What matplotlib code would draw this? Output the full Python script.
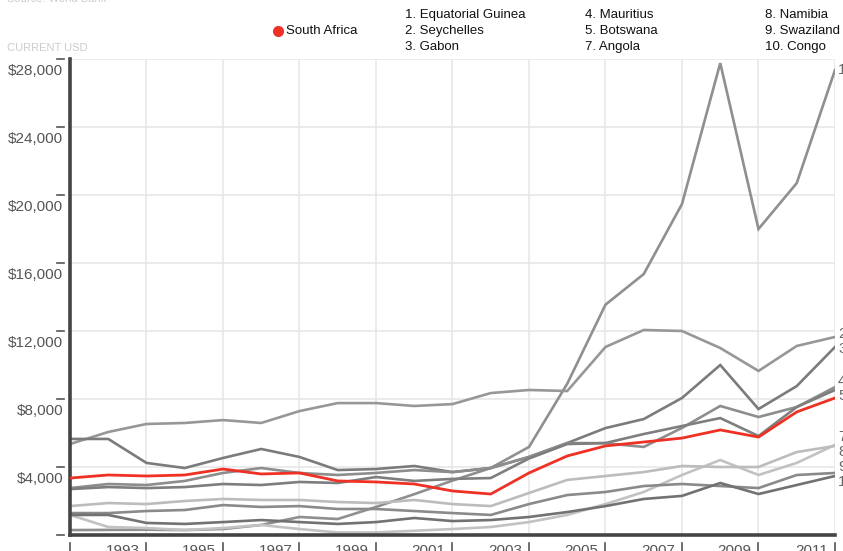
import matplotlib
matplotlib.use("Agg")
import matplotlib.pyplot as plt
from matplotlib.lines import Line2D
import numpy as np

plt.rcParams['font.family'] = ['Liberation Sans', 'DejaVu Sans']

years = [1991, 1992, 1993, 1994, 1995, 1996, 1997, 1998, 1999, 2000, 2001,
         2002, 2003, 2004, 2005, 2006, 2007, 2008, 2009, 2010, 2011]

south_africa = [3350, 3530, 3470, 3530, 3880, 3590, 3650, 3180, 3120, 3000, 2590,
                2410, 3650, 4650, 5240, 5470, 5700, 6180, 5760, 7240, 8060]
equatorial_guinea = [290, 300, 310, 290, 350, 590, 1060, 940, 1650, 2400, 3200,
                     3940, 5180, 8900, 13550, 15350, 19470, 27760, 18000, 20700, 27350]
seychelles = [5350, 6060, 6530, 6590, 6760, 6590, 7290, 7760, 7760, 7590, 7700,
              8350, 8530, 8470, 11060, 12060, 12000, 11000, 9650, 11120, 11650]
gabon = [5650, 5650, 4240, 3940, 4530, 5060, 4590, 3820, 3880, 4060, 3700,
         3940, 4590, 5410, 6290, 6820, 8060, 10000, 7410, 8760, 11060]
mauritius = [2760, 3000, 2940, 3180, 3650, 3940, 3650, 3530, 3650, 3820, 3700,
             3940, 4590, 5410, 5400, 5180, 6300, 7590, 6940, 7530, 8700]
botswana = [2700, 2820, 2760, 2820, 3000, 2940, 3120, 3060, 3410, 3180, 3300,
            3350, 4500, 5350, 5410, 5940, 6410, 6880, 5820, 7530, 8530]
angola = [1180, 470, 410, 290, 410, 590, 350, 150, 150, 250, 350,
          470, 760, 1180, 1820, 2530, 3530, 4410, 3530, 4240, 5300]
namibia = [1700, 1880, 1820, 2000, 2120, 2060, 2060, 1940, 1880, 2060, 1820,
           1700, 2470, 3240, 3470, 3700, 4060, 4000, 4000, 4880, 5240]
swaziland = [1290, 1290, 1410, 1470, 1760, 1650, 1700, 1530, 1530, 1410, 1290,
             1180, 1820, 2350, 2530, 2880, 3000, 2880, 2760, 3530, 3650]
congo = [1180, 1180, 710, 650, 760, 880, 760, 650, 760, 1000, 820,
         880, 1060, 1350, 1700, 2120, 2300, 3060, 2410, 2940, 3470]

ranked = [
    ("1", "Equatorial Guinea", equatorial_guinea, "#8f8f8f"),
    ("2", "Seychelles", seychelles, "#979797"),
    ("3", "Gabon", gabon, "#7b7b7b"),
    ("4", "Mauritius", mauritius, "#8d8d8d"),
    ("5", "Botswana", botswana, "#7e7e7e"),
    ("7", "Angola", angola, "#c2c2c2"),
    ("8", "Namibia", namibia, "#bcbcbc"),
    ("9", "Swaziland", swaziland, "#8a8a8a"),
    ("10", "Congo", congo, "#727272"),
]

y_ticks = [0, 4000, 8000, 12000, 16000, 20000, 24000, 28000]
x_ticks = [1991, 1993, 1995, 1997, 1999, 2001, 2003, 2005, 2007, 2009, 2011]

W, H = 843, 551
fig = plt.figure(figsize=(W / 100, H / 100), dpi=100)
L, R, T, B = 70, 835, 59, 535
ax = fig.add_axes([L / W, (H - B) / H, (R - L) / W, (B - T) / H])
ax.set_xlim(1991, 2011)
ax.set_ylim(0, 28000)

# grid
for v in y_ticks[1:]:
    ax.axhline(v, color="#e6e6e6", lw=1.1, zorder=0)
for yr in x_ticks[1:]:
    ax.axvline(yr, color="#e6e6e6", lw=1.1, zorder=0)

for spine in ["top", "right"]:
    ax.spines[spine].set_visible(False)
for spine in ["left", "bottom"]:
    ax.spines[spine].set_color("#444444")
    ax.spines[spine].set_linewidth(2.6)
ax.set_xticks([])
ax.set_yticks([])

# series
for num, name, vals, col in ranked:
    ax.plot(years, vals, color=col, lw=1.9, solid_joinstyle="miter", zorder=2)
ax.plot(years, south_africa, color="#ee3124", lw=2.0, zorder=3)

# y tick marks + labels
ytr = ax.get_yaxis_transform()
axw = R - L
for v in y_ticks:
    ax.add_line(Line2D([-13 / axw, -6 / axw], [v, v], transform=ytr,
                       color="#555555", lw=1.2, clip_on=False))
    if v > 0:
        ax.annotate(f"${v:,}", xy=(-7 / axw, v), xycoords=ytr,
                    xytext=(0, -12 * 0.72), textcoords="offset points",
                    ha="right", va="center", fontsize=11, color="#555555")

# x tick marks + labels
xtr = ax.get_xaxis_transform()
axh = B - T
for yr in x_ticks:
    ax.add_line(Line2D([yr, yr], [-8 / axh, -17 / axh], transform=xtr,
                       color="#555555", lw=1.2, clip_on=False))
    if yr > 1991:
        ax.annotate(str(yr), xy=(yr, -16 / axh), xycoords=xtr,
                    xytext=(-7 * 0.72, 0), textcoords="offset points",
                    ha="right", va="center", fontsize=11, color="#555555",
                    annotation_clip=False)

# end labels with simple de-overlap
px_per_unit = axh / 28000.0
min_gap = 15 / px_per_unit
ends = [[vals[-1], num] for num, name, vals, col in ranked]
ends.sort(key=lambda e: -e[0])
pos = [e[0] for e in ends]
for _ in range(200):
    moved = False
    for i in range(len(pos) - 1):
        gap = pos[i] - pos[i + 1]
        if gap < min_gap:
            d = (min_gap - gap) / 2
            pos[i] += d
            pos[i + 1] -= d
            moved = True
    if not moved:
        break
for (v, num), p in zip(ends, pos):
    ax.annotate(num, xy=(1.0, p), xycoords=ytr, xytext=(3 * 0.72, 0),
                textcoords="offset points", ha="left", va="center",
                fontsize=11, color="#666666", annotation_clip=False)

# header texts
def fx(x):
    return x / W

def fy(y):
    return 1 - y / H

fig.text(fx(7), fy(-1), "Source: World Bank", fontsize=8, color="#cccccc",
         ha="left", va="center")
fig.text(fx(7), fy(48), "CURRENT USD", fontsize=8, color="#cccccc",
         ha="left", va="center")

fig.add_artist(Line2D([fx(278)], [fy(31)], marker="o", markersize=7,
                      color="#ee3124", transform=fig.transFigure))
fig.text(fx(286), fy(31), "South Africa", fontsize=9.5, color="#111111",
         ha="left", va="center")

col_x = [405, 585, 765]
row_y = [15, 31, 47]
for i, (num, name, vals, col) in enumerate(ranked):
    c, r = divmod(i, 3)
    fig.text(fx(col_x[c]), fy(row_y[r]), f"{num}. {name}", fontsize=9.5,
             color="#111111", ha="left", va="center")

fig.savefig("out.png", dpi=100)
